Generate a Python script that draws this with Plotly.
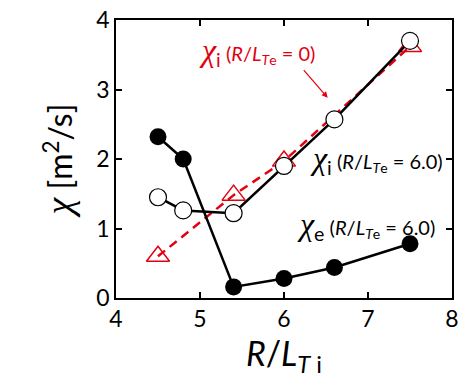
import plotly.graph_objects as go

x_e = [4.5, 4.8, 5.4, 6.0, 6.6, 7.5]
chi_e = [2.32, 2.0, 0.16, 0.28, 0.44, 0.78]
x_i = [4.5, 4.8, 5.4, 6.0, 6.6, 7.5]
chi_i = [1.45, 1.26, 1.22, 1.90, 2.57, 3.70]
x_i0 = [4.5, 5.4, 6.0, 7.5]
chi_i0 = [0.60, 1.48, 1.97, 3.62]

FONT = "Lato"
CHI = "<span style='font-family:Liberation Serif;font-style:italic;font-size:%dpx'>χ</span>"
fig = go.Figure()
fig.add_trace(go.Scatter(x=x_i0, y=chi_i0, mode="lines+markers",
                         line=dict(color="#e3000f", width=2.5, dash="9px,6px"),
                         marker=dict(symbol="triangle-up-open", size=20, color="#e3000f",
                                     line=dict(width=1.5, color="#e3000f"))))
fig.add_trace(go.Scatter(x=x_i, y=chi_i, mode="lines+markers",
                         line=dict(color="black", width=2.5),
                         marker=dict(symbol="circle", size=17, color="white",
                                     line=dict(width=1.2, color="black"))))
fig.add_trace(go.Scatter(x=x_e, y=chi_e, mode="lines+markers",
                         line=dict(color="black", width=2.5),
                         marker=dict(symbol="circle", size=17, color="black")))

def lab(sub, val):
    return ((CHI % 32) + "<sub>%s</sub>"
            "<span style='font-size:20px'> (<i>R</i>/<i>L</i><sub><i>T</i>e</sub> = %s)</span>"
            % (sub, val))

fig.add_annotation(x=4.96, y=3.55, xref="x", yref="y", text=lab("i", "0"),
                   showarrow=False, xanchor="left", yanchor="middle",
                   font=dict(family=FONT, size=28, color="#e3000f"))
fig.add_annotation(x=6.52, y=2.88, ax=6.22, ay=3.30, xref="x", yref="y", axref="x", ayref="y",
                   text="", showarrow=True, arrowhead=2, arrowsize=1, arrowwidth=1.2,
                   arrowcolor="#e3000f")
fig.add_annotation(x=6.29, y=2.0, xref="x", yref="y", text=lab("i", "6.0"),
                   showarrow=False, xanchor="left", yanchor="middle",
                   font=dict(family=FONT, size=28, color="black"))
fig.add_annotation(x=6.13, y=1.04, xref="x", yref="y", text=lab("e", "6.0"),
                   showarrow=False, xanchor="left", yanchor="middle",
                   font=dict(family=FONT, size=28, color="black"))

axis_common = dict(showgrid=False, zeroline=False, showline=True, linecolor="black",
                   linewidth=1.5, mirror="ticks", ticks="inside", ticklen=6,
                   tickwidth=1.5, tickcolor="black", automargin=False,
                   tickfont=dict(family=FONT, size=23, color="black"))
fig.update_xaxes(range=[4, 8], dtick=1, **axis_common,
                 title=dict(text="<i>R</i>/<i>L</i><sub><i>T</i> i</sub>",
                            font=dict(family=FONT, size=34, color="black"), standoff=6))
fig.update_yaxes(range=[0, 4], dtick=1, **axis_common,
                 title=dict(text=(CHI % 38) + " [m<sup>2</sup>/s]",
                            font=dict(family=FONT, size=32, color="black"), standoff=14))
fig.update_layout(width=460, height=383, showlegend=False,
                  margin=dict(l=116, r=8, t=20, b=85),
                  plot_bgcolor="white", paper_bgcolor="white")
fig.write_html("out.html")
